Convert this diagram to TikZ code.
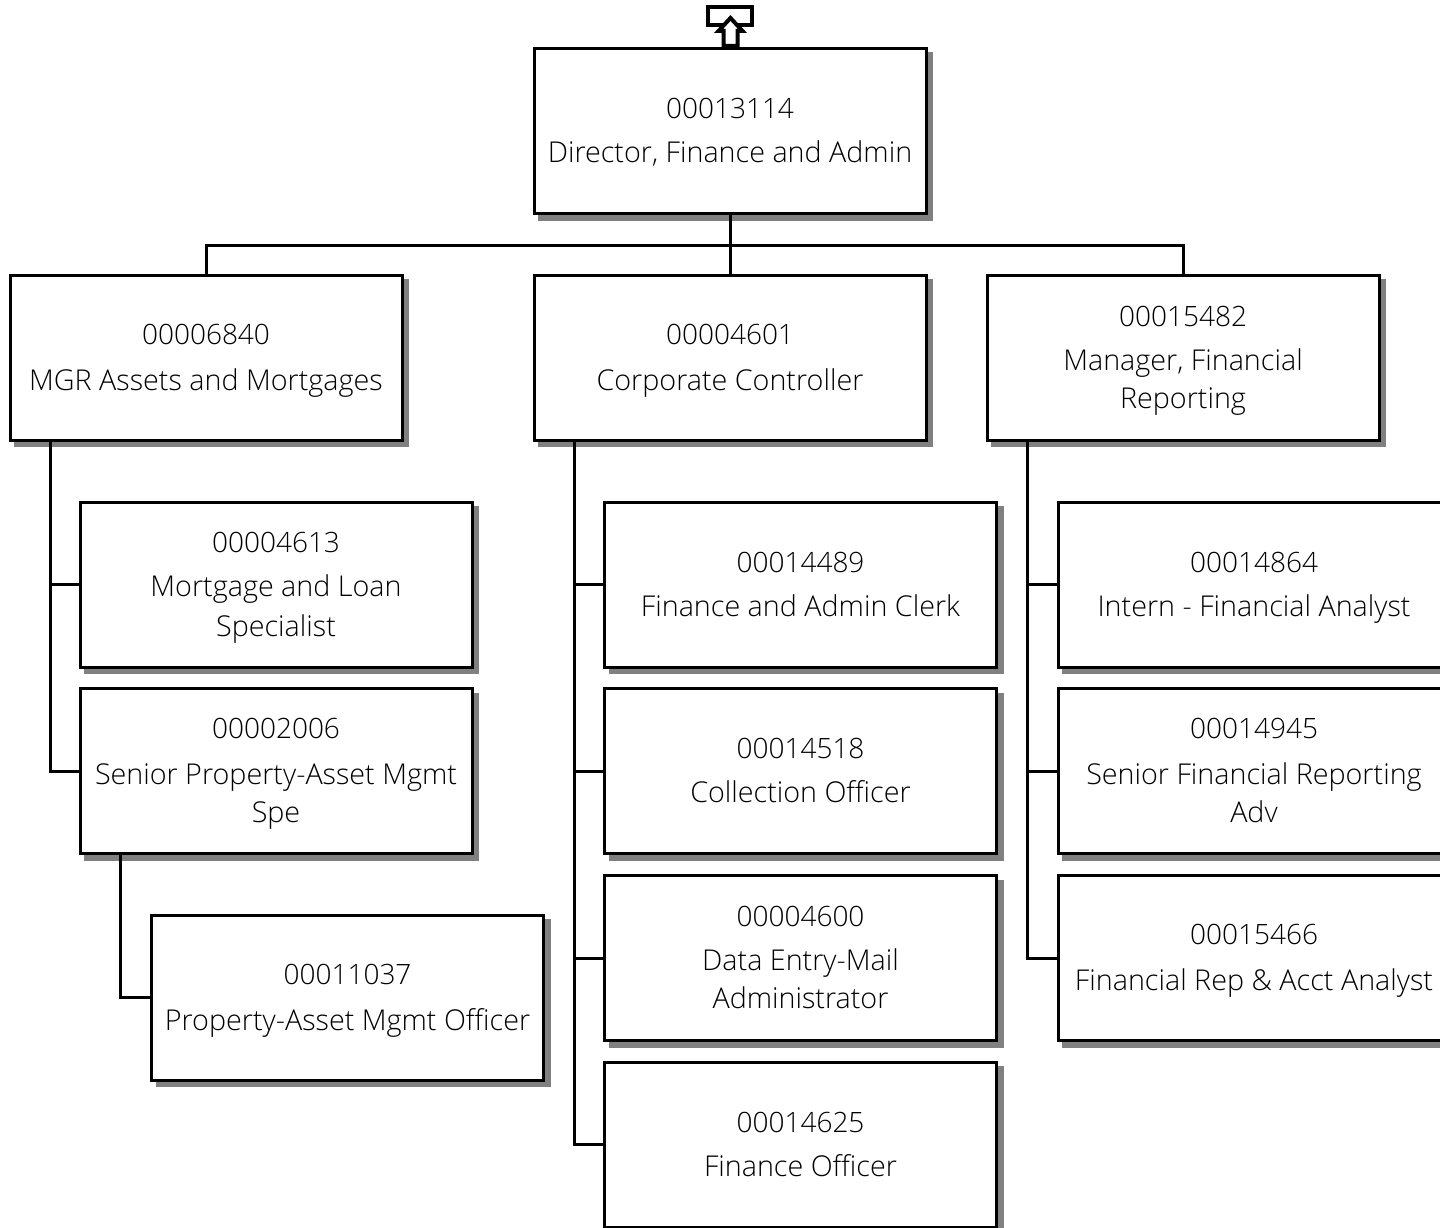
\documentclass[tikz,border=0pt]{standalone}
\usepackage{fontspec}
\usetikzlibrary{shadows}
\setmainfont{Open Sans Light}
\definecolor{shadowgray}{RGB}{128,128,128}
\tikzset{
 x=1pt,y=-1pt,
 posbox/.style={draw=black,line width=3pt,fill=white,minimum width=392pt,minimum height=165pt,inner sep=0pt,outer sep=0pt,align=center,
   font=\fontsize{28.7}{38}\selectfont,
   drop shadow={shadow xshift=5.5pt,shadow yshift=-5.5pt,fill=shadowgray,draw=shadowgray,line width=3pt,opacity=1}},
 link/.style={draw=black,line width=3pt,line cap=rect},
 icon/.style={draw=black,line width=4pt,fill=white,line join=miter}
}
% first argument: downward shift of the text block, second: gap below the number
\newcommand{\posid}[3]{\rule{0pt}{\dimexpr 20pt+2pt*#1\relax}{\fontsize{28}{38}\selectfont #3}\\[#2pt]}
\newcommand{\upone}{\rule[-2pt]{0pt}{2pt}}
\begin{document}
\begin{tikzpicture}
\path[use as bounding box] (0,0) rectangle (1440,1228);
\clip (0,0) rectangle (1440,1228);
\node[posbox] (top) at (730,131) {\posid{1}{6}{00013114}Director, Finance and Admin};
\node[posbox] (a) at (206,357.5) {\posid{3}{8}{00006840}MGR Assets and Mortgages};
\node[posbox] (b) at (730,357.5) {\posid{3}{8}{00004601}Corporate Controller};
\node[posbox] (c) at (1183,357.5) {\posid{3}{6}{00015482}Manager, Financial\\Reporting};
\node[posbox] (a1) at (276,584.5) {\posid{3}{6}{00004613}Mortgage and Loan\\[2pt]Specialist};
\node[posbox] (a2) at (276,771) {\posid{3}{8}{00002006}Senior Property-Asset Mgmt\\Spe};
\node[posbox] (a3) at (347.5,997.5) {\posid{3}{8}{00011037}Property-Asset Mgmt Officer};
\node[posbox] (b1) at (800.5,584.5) {\posid{0}{6}{00014489}Finance and Admin Clerk};
\node[posbox] (b2) at (800.5,771) {\posid{0}{6}{00014518}Collection Officer\upone};
\node[posbox] (b3) at (800.5,958) {\posid{0}{6}{00004600}Data Entry-Mail\\Administrator\upone};
\node[posbox] (b4) at (800.5,1144.5) {\posid{0}{6}{00014625}Finance Officer};
\node[posbox] (c1) at (1254,584.5) {\posid{3}{6}{00014864}Intern - Financial Analyst};
\node[posbox] (c2) at (1254,771) {\posid{0}{8}{00014945}Senior Financial Reporting\\Adv\upone};
\node[posbox] (c3) at (1254,958) {\posid{3}{8}{00015466}Financial Rep \& Acct Analyst};
\coordinate (bus) at (730,245);
\coordinate (atrunk) at ([xshift=40pt]a.south west);
\coordinate (btrunk) at ([xshift=40pt]b.south west);
\coordinate (ctrunk) at ([xshift=40pt]c.south west);
\coordinate (a2trunk) at ([xshift=40pt]a2.south west);
\draw[link] (top.south) -- (b.north);
\draw[link] (a.north) |- (bus);
\draw[link] (c.north) |- (bus);
\draw[link] (atrunk) |- (a1.west);
\draw[link] (atrunk) |- (a2.west);
\draw[link] (a2trunk) |- (a3.west);
\draw[link] (btrunk) |- (b1.west);
\draw[link] (btrunk) |- (b2.west);
\draw[link] (btrunk) |- (b3.west);
\draw[link] (btrunk) |- (b4.west);
\draw[link] (ctrunk) |- (c1.west);
\draw[link] (ctrunk) |- (c2.west);
\draw[link] (ctrunk) |- (c3.west);
\draw[icon] (708,7) rectangle (752,25);
\draw[icon] (730.5,18) -- (742.5,31) -- (737.5,31) -- (737.5,46) -- (723.5,46) -- (723.5,31) -- (718.5,31) -- cycle;
\end{tikzpicture}
\end{document}
